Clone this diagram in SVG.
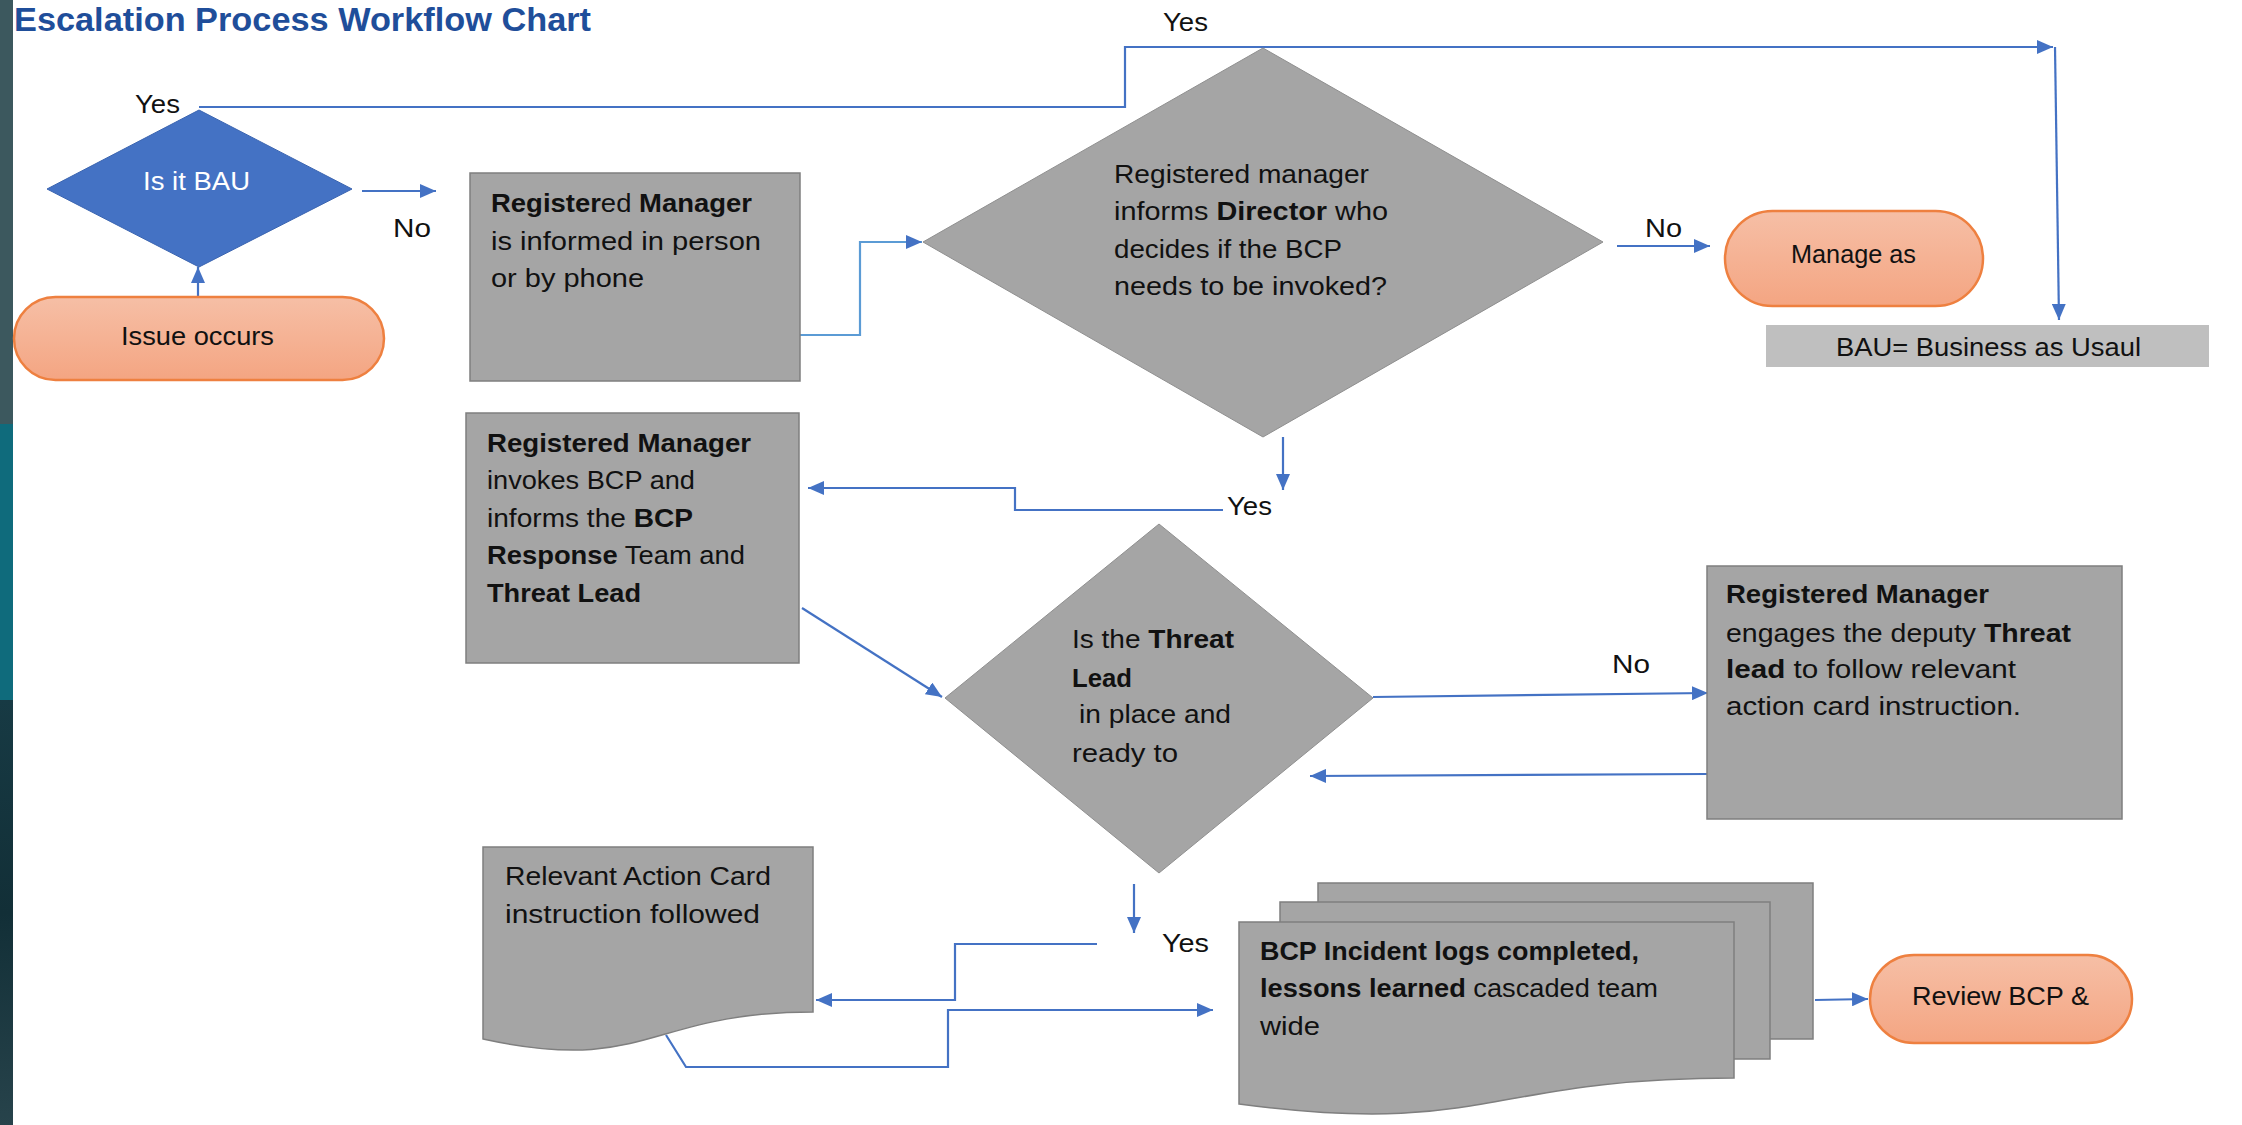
<svg xmlns="http://www.w3.org/2000/svg" width="2242" height="1125" viewBox="0 0 2242 1125">
<defs>
<style>
text{font-family:"Liberation Sans",Arial,sans-serif;font-size:26px;fill:#111}
.b{font-weight:bold}
.box{fill:#a5a5a5;stroke:#7f7f7f;stroke-width:1.5}
.dia{fill:#a5a5a5;stroke:#8f8f8f;stroke-width:1}
.pill{fill:url(#og);stroke:#ee8040;stroke-width:2.5}
.c{fill:none;stroke:#4472c4;stroke-width:2.2;marker-end:url(#ah)}
.cl{stroke:#5b9bd5}
.lbl{font-size:26px}
</style>
<linearGradient id="og" x1="0" y1="0" x2="0" y2="1"><stop offset="0" stop-color="#f6bfa6"/><stop offset="1" stop-color="#f4a582"/></linearGradient>
<linearGradient id="strip" x1="0" y1="0" x2="0" y2="1"><stop offset="0" stop-color="#173a44"/><stop offset="0.5" stop-color="#122f37"/><stop offset="1" stop-color="#27434b"/></linearGradient>
<marker id="ah" viewBox="0 0 16 14" refX="16" refY="7" markerWidth="16" markerHeight="14" markerUnits="userSpaceOnUse" orient="auto"><path d="M0,0 L16,7 L0,14 Z" fill="#4472c4"/></marker>
</defs>
<rect x="0" y="0" width="2242" height="1125" fill="#ffffff"/>
<g id="strip-bg">
<rect x="0" y="0" width="13" height="424" fill="#3c585e"/>
<rect x="0" y="424" width="13" height="276" fill="#0f6b7c"/>
<rect x="0" y="700" width="13" height="425" fill="url(#strip)"/>
</g>
<text id="title" x="14" y="31" class="b" style="font-size:34px;fill:#1f4e9a" textLength="577" lengthAdjust="spacingAndGlyphs">Escalation Process Workflow Chart</text>

<g id="connectors">
<path class="c" d="M198,297 V267"/>
<path class="c" d="M362,191 H436"/>
<path class="c" d="M199,107 H1125 V47 H2053"/>
<path class="c" d="M2055,47 L2059,320"/>
<path class="c cl" d="M800,335 H860 V242 H922"/>
<path class="c" d="M1617,246 H1710"/>
<path class="c" d="M1283,437 V490"/>
<path class="c" d="M1223,510 H1015 V488 H808"/>
<path class="c" d="M802,608 L942,697"/>
<path class="c" d="M1373,697 L1708,693"/>
<path class="c" d="M1707,774 L1310,776"/>
<path class="c" d="M1134,884 V933"/>
<path class="c" d="M1097,944 H955 V1000 H816"/>
<path class="c" d="M666,1035 L686,1067 H948 V1010 H1213"/>
<path class="c" d="M1815,1000 L1868,999"/>
<text class="lbl" x="135" y="113" textLength="45" lengthAdjust="spacingAndGlyphs">Yes</text>
<text class="lbl" x="393" y="237" textLength="38" lengthAdjust="spacingAndGlyphs">No</text>
<text class="lbl" x="1163" y="31" textLength="45" lengthAdjust="spacingAndGlyphs">Yes</text>
<text class="lbl" x="1645" y="237" textLength="37" lengthAdjust="spacingAndGlyphs">No</text>
<text class="lbl" x="1227" y="515" textLength="45" lengthAdjust="spacingAndGlyphs">Yes</text>
<text class="lbl" x="1612" y="673" textLength="38" lengthAdjust="spacingAndGlyphs">No</text>
<text class="lbl" x="1162" y="952" textLength="47" lengthAdjust="spacingAndGlyphs">Yes</text>
</g>

<g id="bau">
<polygon points="47,189 199,110 352,189 199,267" fill="#4472c4" stroke="#3a64b0" stroke-width="1"/>
<text x="143" y="190" style="fill:#fff" textLength="107" lengthAdjust="spacingAndGlyphs">Is it BAU</text>
</g>

<g id="issue">
<rect class="pill" x="14" y="297" width="370" height="83" rx="41.5"/>
<text x="121" y="345" textLength="153" lengthAdjust="spacingAndGlyphs">Issue occurs</text>
</g>

<g id="box1">
<rect class="box" x="470" y="173" width="330" height="208"/>
<text x="491" y="212" textLength="261" lengthAdjust="spacingAndGlyphs"><tspan class="b">Register</tspan>ed <tspan class="b">Manager</tspan></text>
<text x="491" y="250" textLength="270" lengthAdjust="spacingAndGlyphs">is informed in person</text>
<text x="491" y="287" textLength="153" lengthAdjust="spacingAndGlyphs">or by phone</text>
</g>

<g id="director">
<polygon class="dia" points="923,242 1263,48 1603,242 1263,437"/>
<text x="1114" y="183" textLength="255" lengthAdjust="spacingAndGlyphs">Registered manager</text>
<text x="1114" y="220" textLength="274" lengthAdjust="spacingAndGlyphs">informs <tspan class="b">Director</tspan> who</text>
<text x="1114" y="258" textLength="228" lengthAdjust="spacingAndGlyphs">decides if the BCP</text>
<text x="1114" y="295" textLength="273" lengthAdjust="spacingAndGlyphs">needs to be invoked?</text>
</g>

<g id="manage">
<rect class="pill" x="1725" y="211" width="258" height="95" rx="47.5"/>
<text x="1791" y="263" textLength="125" lengthAdjust="spacingAndGlyphs">Manage as</text>
</g>

<g id="bau-note">
<rect x="1766" y="325" width="443" height="42" fill="#bfbfbf"/>
<text x="1836" y="356" textLength="305" lengthAdjust="spacingAndGlyphs">BAU= Business as Usaul</text>
</g>

<g id="box2">
<rect class="box" x="466" y="413" width="333" height="250"/>
<text x="487" y="452" class="b" textLength="264" lengthAdjust="spacingAndGlyphs">Registered Manager</text>
<text x="487" y="489" textLength="208" lengthAdjust="spacingAndGlyphs">invokes BCP and</text>
<text x="487" y="527" textLength="206" lengthAdjust="spacingAndGlyphs">informs the <tspan class="b">BCP</tspan></text>
<text x="487" y="564" textLength="258" lengthAdjust="spacingAndGlyphs"><tspan class="b">Response</tspan> Team and</text>
<text x="487" y="602" class="b" textLength="154" lengthAdjust="spacingAndGlyphs">Threat Lead</text>
</g>

<g id="threat">
<polygon class="dia" points="945,698 1159,524 1373,698 1159,873"/>
<text x="1072" y="648" textLength="162" lengthAdjust="spacingAndGlyphs">Is the <tspan class="b">Threat</tspan></text>
<text x="1072" y="687" class="b" textLength="60" lengthAdjust="spacingAndGlyphs">Lead</text>
<text x="1079" y="723" textLength="152" lengthAdjust="spacingAndGlyphs">in place and</text>
<text x="1072" y="762" textLength="106" lengthAdjust="spacingAndGlyphs">ready to</text>
</g>

<g id="deputy">
<rect class="box" x="1707" y="566" width="415" height="253"/>
<text x="1726" y="603" class="b" textLength="263" lengthAdjust="spacingAndGlyphs">Registered Manager</text>
<text x="1726" y="642" textLength="345" lengthAdjust="spacingAndGlyphs">engages the deputy <tspan class="b">Threat</tspan></text>
<text x="1726" y="678" textLength="290" lengthAdjust="spacingAndGlyphs"><tspan class="b">lead</tspan> to follow relevant</text>
<text x="1726" y="715" textLength="295" lengthAdjust="spacingAndGlyphs">action card instruction.</text>
</g>

<g id="actioncard">
<path class="box" d="M483,847 H813 V1012 C648,1012 648,1075 483,1039 Z"/>
<text x="505" y="885" textLength="266" lengthAdjust="spacingAndGlyphs">Relevant Action Card</text>
<text x="505" y="923" textLength="255" lengthAdjust="spacingAndGlyphs">instruction followed</text>
</g>

<g id="incident">
<rect class="box" x="1318" y="883" width="495" height="156"/>
<rect class="box" x="1280" y="902" width="490" height="157"/>
<path class="box" d="M1239,922 H1734 V1078 C1486,1078 1486,1137 1239,1104 Z"/>
<text x="1260" y="960" class="b" textLength="379" lengthAdjust="spacingAndGlyphs">BCP Incident logs completed,</text>
<text x="1260" y="997" textLength="398" lengthAdjust="spacingAndGlyphs"><tspan class="b">lessons learned</tspan> cascaded team</text>
<text x="1260" y="1035" textLength="60" lengthAdjust="spacingAndGlyphs">wide</text>
</g>

<g id="review">
<rect class="pill" x="1870" y="955" width="262" height="88" rx="44"/>
<text x="1912" y="1005" textLength="177" lengthAdjust="spacingAndGlyphs">Review BCP &amp;</text>
</g>
</svg>
